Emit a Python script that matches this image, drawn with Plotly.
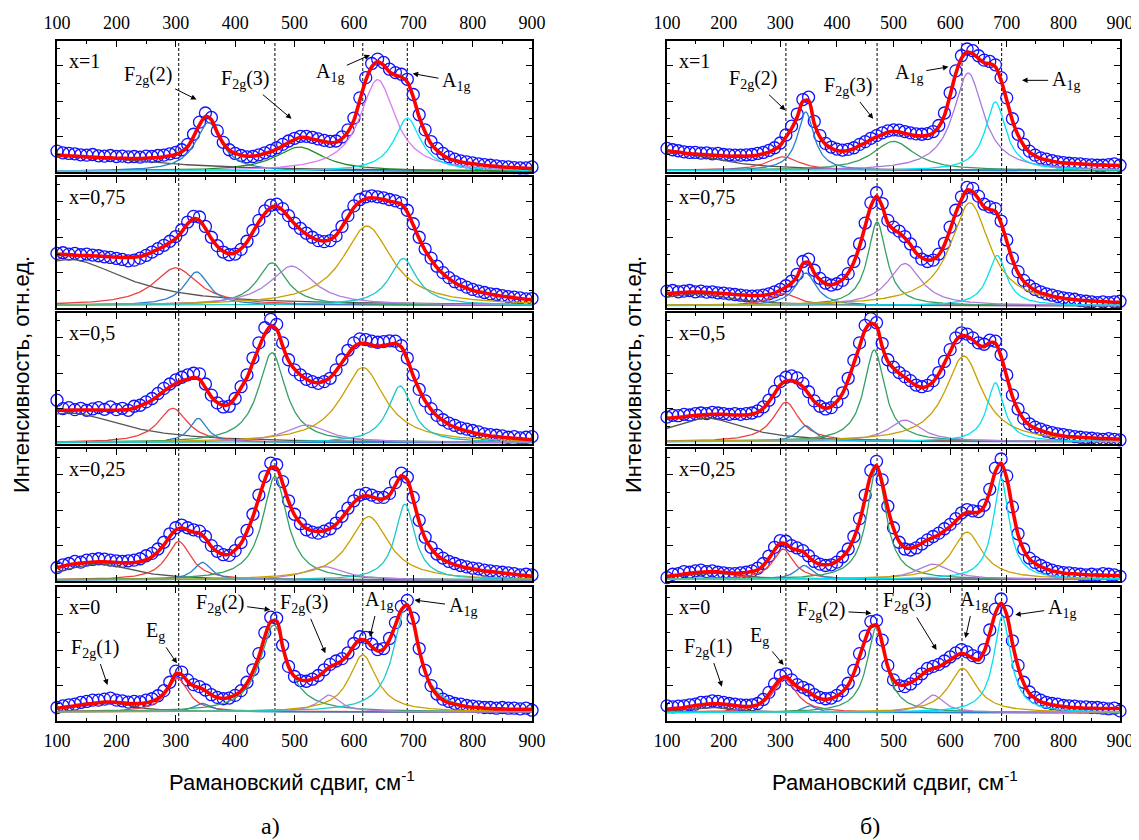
import numpy as np
import plotly.graph_objects as go

# ---------------- data ----------------
wavenumber = list(range(100, 901, 10))          # Raman shift grid, cm^-1

# panel а) ----------------------------------------------------------
a1_exp = [0.62,0.57,0.55,0.54,0.51,0.50,0.52,0.48,0.47,0.49,
          0.46,0.47,0.45,0.46,0.44,0.47,0.46,0.49,0.50,0.54,
          0.58,0.66,0.82,1.12,1.48,1.75,1.62,1.22,0.88,0.66,
          0.55,0.49,0.45,0.46,0.51,0.57,0.64,0.72,0.82,0.92,
          1.00,1.06,1.06,1.03,0.98,0.94,0.91,0.92,1.04,1.25,
          1.60,2.20,2.80,3.22,3.35,3.25,3.05,2.95,2.90,2.75,
          2.30,1.70,1.25,0.90,0.70,0.55,0.45,0.38,0.33,0.30,
          0.27,0.24,0.22,0.20,0.18,0.16,0.15,0.13,0.12,0.12,
          0.15]
a1_fit = [0.50,0.49,0.48,0.47,0.46,0.45,0.44,0.43,0.42,0.42,
          0.41,0.41,0.40,0.40,0.40,0.41,0.42,0.43,0.45,0.48,
          0.52,0.60,0.75,1.05,1.40,1.65,1.55,1.17,0.85,0.65,
          0.55,0.50,0.47,0.47,0.50,0.55,0.60,0.68,0.77,0.87,
          0.96,1.03,1.02,0.98,0.94,0.90,0.87,0.88,0.99,1.19,
          1.53,2.13,2.72,3.12,3.27,3.17,2.97,2.87,2.82,2.67,
          2.23,1.63,1.19,0.84,0.64,0.50,0.40,0.34,0.30,0.27,
          0.25,0.22,0.20,0.18,0.17,0.15,0.14,0.13,0.12,0.11,
          0.10]
a1_center = [100, 355, 508, 640, 690]
a1_hwhm = [180, 27, 50, 36, 27]
a1_height = [0.48, 1.45, 0.72, 2.72, 1.58]
a1_colors = ["#555555", "#2a7fc4", "#1f8a1f", "#dc7af0", "#00e8f0"]
a1_base = 0.02

a2_exp = [1.62,1.64,1.60,1.62,1.58,1.60,1.57,1.55,1.52,1.50,
          1.47,1.44,1.40,1.42,1.48,1.56,1.66,1.76,1.86,1.98,
          2.12,2.32,2.55,2.72,2.70,2.42,2.10,1.85,1.66,1.58,
          1.60,1.74,1.98,2.30,2.60,2.88,3.05,3.08,2.95,2.74,
          2.52,2.36,2.22,2.10,2.00,1.97,2.00,2.14,2.42,2.74,
          3.03,3.22,3.30,3.33,3.30,3.27,3.22,3.18,3.12,2.90,
          2.50,2.10,1.75,1.48,1.24,1.05,0.90,0.78,0.70,0.62,
          0.55,0.50,0.46,0.42,0.40,0.37,0.34,0.32,0.30,0.27,
          0.28]
a2_fit = [1.59,1.59,1.58,1.57,1.56,1.56,1.55,1.54,1.53,1.52,
          1.51,1.50,1.50,1.51,1.53,1.58,1.66,1.74,1.83,1.94,
          2.06,2.26,2.50,2.65,2.60,2.36,2.06,1.83,1.68,1.61,
          1.64,1.76,1.96,2.26,2.55,2.80,2.98,3.02,2.90,2.70,
          2.50,2.33,2.19,2.08,2.01,1.99,2.03,2.16,2.41,2.70,
          2.98,3.15,3.24,3.27,3.25,3.22,3.17,3.13,3.08,2.85,
          2.46,2.06,1.71,1.44,1.20,1.02,0.87,0.75,0.66,0.59,
          0.52,0.48,0.45,0.41,0.38,0.35,0.33,0.30,0.28,0.26,
          0.25]
a2_center = [120, 300, 335, 462, 495, 622, 683]
a2_hwhm = [115, 45, 25, 30, 45, 50, 28]
a2_height = [1.36, 1.11, 0.99, 1.26, 1.16, 2.35, 1.39]
a2_base = 0.08

a3_exp = [1.30,1.05,1.08,1.02,1.06,1.00,1.04,1.08,1.03,1.10,
          1.02,1.06,1.00,1.12,1.15,1.25,1.35,1.50,1.65,1.78,
          1.90,1.98,2.05,2.10,2.08,1.78,1.45,1.22,1.10,1.12,
          1.35,1.70,2.05,2.55,3.00,3.45,3.70,3.55,3.00,2.50,
          2.20,2.05,1.92,1.85,1.80,1.85,1.95,2.20,2.50,2.78,
          3.00,3.12,3.10,3.05,3.02,3.04,3.06,3.05,2.92,2.55,
          2.05,1.62,1.28,1.05,0.85,0.72,0.62,0.55,0.48,0.44,
          0.40,0.36,0.30,0.28,0.26,0.24,0.20,0.22,0.18,0.20,
          0.22]
a3_fit = [1.00,1.00,1.00,1.01,1.01,1.01,1.01,1.01,1.00,1.00,
          1.00,1.01,1.02,1.07,1.13,1.21,1.30,1.43,1.57,1.69,
          1.79,1.87,1.92,1.97,1.92,1.67,1.40,1.23,1.15,1.18,
          1.38,1.67,1.97,2.42,2.86,3.26,3.50,3.40,2.91,2.47,
          2.22,2.05,1.92,1.84,1.82,1.87,1.97,2.17,2.42,2.66,
          2.88,2.98,2.98,2.94,2.90,2.92,2.96,2.98,2.88,2.51,
          2.02,1.62,1.28,1.03,0.83,0.70,0.58,0.50,0.44,0.39,
          0.34,0.30,0.27,0.24,0.22,0.20,0.19,0.17,0.16,0.14,
          0.13]
a3_center = [120, 295, 338, 462, 520, 615, 678]
a3_hwhm = [110, 30, 18, 28, 45, 45, 25]
a3_height = [0.88, 1.02, 0.72, 2.67, 0.52, 2.23, 1.68]
a3_base = 0.04

a4_exp = [0.40,0.48,0.52,0.58,0.56,0.62,0.64,0.66,0.65,0.62,
          0.60,0.58,0.60,0.62,0.66,0.75,0.82,0.95,1.15,1.40,
          1.58,1.66,1.58,1.52,1.48,1.32,1.05,0.88,0.78,0.76,
          0.90,1.14,1.50,1.98,2.55,3.10,3.50,3.45,2.95,2.38,
          1.98,1.70,1.52,1.45,1.42,1.48,1.55,1.72,1.92,2.16,
          2.38,2.55,2.60,2.55,2.48,2.48,2.60,2.92,3.20,3.08,
          2.48,1.80,1.30,1.00,0.80,0.68,0.58,0.52,0.46,0.42,
          0.38,0.36,0.32,0.30,0.28,0.26,0.24,0.22,0.18,0.20,
          0.18]
a4_fit = [0.40,0.44,0.48,0.51,0.53,0.55,0.56,0.57,0.57,0.56,
          0.55,0.54,0.54,0.55,0.57,0.63,0.72,0.87,1.07,1.32,
          1.51,1.58,1.51,1.45,1.42,1.27,1.02,0.87,0.79,0.79,
          0.92,1.12,1.47,1.91,2.46,3.00,3.37,3.35,2.90,2.36,
          1.96,1.71,1.56,1.49,1.47,1.49,1.56,1.68,1.88,2.11,
          2.33,2.48,2.53,2.50,2.44,2.44,2.55,2.85,3.12,3.00,
          2.41,1.76,1.27,0.97,0.77,0.64,0.55,0.48,0.43,0.39,
          0.36,0.33,0.30,0.28,0.26,0.24,0.22,0.20,0.18,0.16,
          0.14]
a4_center = [170, 305, 345, 467, 550, 625, 686]
a4_hwhm = [70, 25, 18, 25, 40, 40, 20]
a4_height = [0.48, 1.14, 0.52, 3.07, 0.40, 1.88, 2.25]
a4_base = 0.03

a5_exp = [0.40,0.45,0.48,0.50,0.55,0.58,0.62,0.62,0.65,0.68,
          0.62,0.60,0.56,0.58,0.57,0.62,0.66,0.75,0.90,1.15,
          1.48,1.45,1.22,1.08,1.02,0.92,0.78,0.70,0.66,0.68,
          0.76,0.90,1.15,1.52,2.00,2.62,3.08,3.05,2.25,1.62,
          1.32,1.20,1.18,1.24,1.35,1.52,1.68,1.78,1.85,2.02,
          2.30,2.50,2.48,2.28,2.12,2.15,2.45,2.92,3.40,3.58,
          3.05,2.15,1.50,1.05,0.80,0.65,0.58,0.52,0.50,0.46,
          0.44,0.42,0.40,0.40,0.38,0.40,0.38,0.38,0.36,0.38,
          0.32]
a5_fit = [0.38,0.40,0.43,0.45,0.48,0.50,0.52,0.54,0.56,0.56,
          0.55,0.54,0.52,0.52,0.52,0.54,0.59,0.67,0.82,1.07,
          1.40,1.38,1.17,1.04,0.99,0.90,0.77,0.70,0.67,0.70,
          0.77,0.90,1.12,1.47,1.91,2.50,2.95,2.97,2.21,1.61,
          1.32,1.22,1.20,1.24,1.32,1.47,1.61,1.69,1.79,1.96,
          2.23,2.41,2.39,2.21,2.08,2.13,2.41,2.85,3.30,3.45,
          2.95,2.11,1.47,1.02,0.77,0.62,0.54,0.50,0.46,0.43,
          0.41,0.40,0.38,0.37,0.36,0.36,0.35,0.35,0.35,0.35,
          0.35]
a5_center = [180, 303, 345, 465, 558, 615, 688]
a5_hwhm = [50, 22, 18, 28, 22, 28, 25]
a5_height = [0.30, 1.00, 0.25, 2.58, 0.50, 1.69, 3.18]
a5_base = 0.27

# panel б) ----------------------------------------------------------
b1_exp = [0.70,0.66,0.63,0.60,0.58,0.58,0.56,0.57,0.54,0.55,
          0.52,0.51,0.50,0.50,0.51,0.52,0.55,0.58,0.64,0.72,
          0.86,1.10,1.36,1.72,2.15,2.22,1.50,1.08,0.85,0.74,
          0.68,0.65,0.67,0.72,0.82,0.90,1.00,1.08,1.16,1.22,
          1.25,1.24,1.20,1.16,1.13,1.12,1.14,1.20,1.38,1.75,
          2.35,3.00,3.45,3.65,3.60,3.45,3.32,3.28,3.18,2.80,
          2.20,1.58,1.12,0.82,0.62,0.50,0.42,0.38,0.34,0.30,
          0.28,0.26,0.25,0.24,0.22,0.21,0.20,0.20,0.22,0.24,
          0.20]
b1_fit = [0.64,0.61,0.59,0.56,0.54,0.53,0.52,0.51,0.50,0.49,
          0.48,0.47,0.47,0.47,0.47,0.48,0.50,0.54,0.59,0.67,
          0.79,1.04,1.29,1.63,2.10,2.12,1.44,1.04,0.82,0.71,
          0.64,0.62,0.64,0.69,0.79,0.86,0.96,1.04,1.11,1.18,
          1.21,1.19,1.14,1.11,1.08,1.07,1.09,1.16,1.34,1.68,
          2.28,2.92,3.37,3.56,3.51,3.37,3.24,3.22,3.12,2.72,
          2.13,1.53,1.09,0.79,0.59,0.48,0.40,0.36,0.32,0.29,
          0.27,0.26,0.25,0.24,0.23,0.22,0.21,0.21,0.20,0.20,
          0.19]
b1_center = [110, 305, 345, 500, 632, 680]
b1_hwhm = [100, 35, 18, 45, 32, 22]
b1_height = [0.52, 0.41, 1.74, 0.87, 2.90, 2.04]
b1_colors = ["#555555", "#ee4040", "#2a80d0", "#3a9a5a", "#a878dc", "#00e4f4"]
b1_base = 0.04

b2_exp = [0.50,0.52,0.48,0.50,0.52,0.48,0.50,0.47,0.48,0.45,
          0.44,0.42,0.40,0.38,0.36,0.35,0.36,0.38,0.42,0.48,
          0.55,0.66,0.80,1.00,1.38,1.45,1.12,0.88,0.74,0.68,
          0.72,0.82,1.02,1.38,1.90,2.52,3.12,3.42,3.10,2.60,
          2.40,2.28,2.12,1.90,1.65,1.45,1.38,1.42,1.60,1.92,
          2.40,2.90,3.30,3.58,3.55,3.32,3.08,3.00,2.95,2.58,
          2.02,1.48,1.08,0.82,0.66,0.55,0.48,0.42,0.38,0.34,
          0.30,0.28,0.26,0.22,0.20,0.18,0.16,0.18,0.16,0.18,
          0.20]
b2_fit = [0.43,0.44,0.45,0.46,0.47,0.47,0.47,0.46,0.45,0.44,
          0.43,0.42,0.40,0.39,0.38,0.37,0.37,0.38,0.40,0.45,
          0.52,0.62,0.74,0.94,1.32,1.36,1.04,0.84,0.72,0.69,
          0.74,0.84,1.04,1.36,1.83,2.43,3.02,3.32,3.02,2.52,
          2.33,2.23,2.08,1.88,1.63,1.49,1.42,1.44,1.58,1.88,
          2.33,2.82,3.22,3.50,3.45,3.24,3.00,2.92,2.87,2.52,
          1.98,1.44,1.04,0.79,0.64,0.52,0.45,0.40,0.35,0.32,
          0.29,0.27,0.25,0.23,0.22,0.21,0.20,0.19,0.18,0.17,
          0.17]
b2_center = [150, 305, 345, 471, 520, 635, 683]
b2_hwhm = [80, 30, 22, 20, 35, 42, 20]
b2_height = [0.35, 0.36, 0.97, 2.48, 1.25, 3.05, 1.49]
b2_base = 0.07

b3_exp = [0.80,0.85,0.84,0.88,0.86,0.90,0.92,0.90,0.94,0.92,
          0.90,0.88,0.90,0.88,0.90,0.92,0.98,1.10,1.30,1.56,
          1.85,1.98,2.02,1.96,1.80,1.55,1.28,1.12,1.04,1.08,
          1.25,1.52,1.95,2.48,3.00,3.52,3.72,3.60,2.98,2.50,
          2.28,2.12,2.00,1.88,1.75,1.70,1.74,1.88,2.12,2.45,
          2.80,3.15,3.30,3.26,3.15,3.00,2.96,3.08,3.05,2.65,
          2.05,1.45,1.04,0.76,0.60,0.50,0.44,0.38,0.34,0.30,
          0.28,0.25,0.22,0.20,0.18,0.17,0.15,0.14,0.16,0.14,
          0.12]
b3_fit = [0.76,0.78,0.79,0.81,0.83,0.85,0.86,0.87,0.88,0.88,
          0.88,0.87,0.86,0.86,0.86,0.89,0.94,1.06,1.26,1.50,
          1.75,1.87,1.88,1.82,1.70,1.49,1.26,1.13,1.06,1.11,
          1.26,1.50,1.90,2.40,2.89,3.39,3.58,3.49,2.89,2.45,
          2.25,2.10,1.98,1.85,1.73,1.68,1.72,1.85,2.08,2.40,
          2.74,3.07,3.21,3.19,3.09,2.94,2.89,3.01,2.99,2.59,
          2.00,1.41,1.01,0.73,0.56,0.47,0.40,0.35,0.30,0.27,
          0.24,0.22,0.21,0.20,0.19,0.18,0.17,0.16,0.16,0.15,
          0.15]
b3_center = [170, 310, 345, 466, 520, 624, 680]
b3_hwhm = [80, 28, 18, 22, 35, 40, 18]
b3_height = [0.70, 1.17, 0.47, 2.72, 0.64, 2.54, 1.75]
b3_base = 0.07

b4_exp = [0.10,0.20,0.22,0.28,0.26,0.30,0.32,0.28,0.30,0.26,
          0.24,0.22,0.22,0.24,0.26,0.30,0.38,0.52,0.74,1.00,
          1.20,1.18,1.05,0.98,0.90,0.75,0.58,0.50,0.46,0.48,
          0.56,0.72,0.95,1.32,1.85,2.55,3.28,3.55,3.00,2.22,
          1.58,1.15,0.95,0.92,0.98,1.10,1.22,1.32,1.42,1.55,
          1.68,1.85,2.02,2.12,2.08,2.06,2.25,2.72,3.35,3.62,
          3.12,2.20,1.40,0.95,0.68,0.55,0.46,0.38,0.32,0.28,
          0.25,0.24,0.22,0.20,0.18,0.20,0.18,0.22,0.20,0.18,
          0.14]
b4_fit = [0.13,0.16,0.18,0.21,0.23,0.25,0.26,0.27,0.28,0.27,
          0.26,0.24,0.23,0.24,0.25,0.28,0.33,0.46,0.67,0.92,
          1.12,1.10,0.97,0.92,0.87,0.72,0.57,0.50,0.48,0.50,
          0.59,0.72,0.92,1.27,1.76,2.46,3.15,3.43,2.90,2.16,
          1.56,1.17,0.99,0.97,1.02,1.12,1.22,1.29,1.37,1.49,
          1.61,1.78,1.94,2.04,2.03,2.04,2.21,2.65,3.25,3.50,
          3.05,2.16,1.37,0.92,0.65,0.52,0.43,0.36,0.30,0.27,
          0.24,0.22,0.21,0.20,0.19,0.18,0.18,0.17,0.17,0.16,
          0.16]
b4_center = [180, 305, 342, 470, 570, 630, 690]
b4_hwhm = [60, 22, 18, 20, 35, 32, 17]
b4_height = [0.18, 0.90, 0.41, 3.32, 0.45, 1.40, 3.00]
b4_base = 0.05

b5_exp = [0.45,0.42,0.44,0.45,0.48,0.50,0.55,0.56,0.60,0.58,
          0.55,0.52,0.50,0.48,0.47,0.48,0.52,0.64,0.85,1.10,
          1.35,1.40,1.22,1.08,1.00,0.92,0.78,0.70,0.66,0.68,
          0.76,0.90,1.12,1.50,2.00,2.52,2.95,2.98,2.40,1.65,
          1.22,1.05,1.02,1.10,1.25,1.40,1.56,1.62,1.68,1.78,
          1.90,2.02,2.12,2.05,1.94,1.88,2.12,2.70,3.32,3.62,
          3.25,2.38,1.65,1.15,0.86,0.70,0.62,0.55,0.52,0.50,
          0.46,0.45,0.44,0.42,0.42,0.40,0.40,0.38,0.36,0.38,
          0.30]
b5_fit = [0.35,0.37,0.38,0.40,0.43,0.46,0.48,0.50,0.52,0.51,
          0.50,0.48,0.46,0.44,0.43,0.44,0.48,0.60,0.80,1.04,
          1.24,1.32,1.17,1.02,0.94,0.87,0.74,0.67,0.64,0.67,
          0.74,0.87,1.07,1.42,1.91,2.41,2.80,2.85,2.31,1.61,
          1.22,1.07,1.07,1.14,1.24,1.37,1.50,1.56,1.61,1.71,
          1.81,1.93,2.01,1.96,1.86,1.81,2.06,2.60,3.20,3.50,
          3.15,2.31,1.61,1.12,0.82,0.67,0.57,0.52,0.48,0.45,
          0.43,0.41,0.40,0.39,0.38,0.38,0.37,0.37,0.37,0.37,
          0.37]
b5_center = [180, 308, 352, 470, 570, 622, 692]
b5_hwhm = [50, 25, 15, 20, 22, 30, 18]
b5_height = [0.15, 0.99, 0.20, 2.55, 0.52, 1.31, 2.85]
b5_base = 0.25

comp_colors = ["#555555", "#ee4040", "#2a7fcc", "#34a065", "#b47ee0", "#c9a000", "#20c6c6"]
comp_colors_b = ["#555555", "#ee4040", "#2a7fcc", "#34a065", "#b07ad8", "#c9a000", "#00e0ee"]

sample_labels = ["x=1", "x=0,75", "x=0,5", "x=0,25", "x=0"]
dashed_a = [305, 467, 615, 690]
dashed_b = [310, 471, 621, 691]

# ---------------- layout constants (page pixels) ----------------
OFF = 8                       # default page margin around the plot div
FW, FH = 1139 - OFF, 840 - OFF
ROW_TOP = [41, 177, 313, 449, 587]
ROW_BOT = [172, 308, 444, 581, 721]
PANEL_X = [(57, 532), (667, 1120)]
UNIT_PX = 33.7
SERIF = "Liberation Serif, Times New Roman, Times, serif"
SANS = "Liberation Sans, Arial, Helvetica, sans-serif"


def px_x(p):
    return (p - OFF) / FW


def px_y(p):
    return 1 - (p - OFF) / FH


panels = [
    [(a1_exp, a1_fit, a1_center, a1_hwhm, a1_height, a1_colors, a1_base),
     (a2_exp, a2_fit, a2_center, a2_hwhm, a2_height, comp_colors, a2_base),
     (a3_exp, a3_fit, a3_center, a3_hwhm, a3_height, comp_colors, a3_base),
     (a4_exp, a4_fit, a4_center, a4_hwhm, a4_height, comp_colors, a4_base),
     (a5_exp, a5_fit, a5_center, a5_hwhm, a5_height, comp_colors, a5_base)],
    [(b1_exp, b1_fit, b1_center, b1_hwhm, b1_height, b1_colors, b1_base),
     (b2_exp, b2_fit, b2_center, b2_hwhm, b2_height, comp_colors_b, b2_base),
     (b3_exp, b3_fit, b3_center, b3_hwhm, b3_height, comp_colors_b, b3_base),
     (b4_exp, b4_fit, b4_center, b4_hwhm, b4_height, comp_colors_b, b4_base),
     (b5_exp, b5_fit, b5_center, b5_hwhm, b5_height, comp_colors_b, b5_base)],
]

xg = np.arange(100, 901, 2)
fig = go.Figure()
layout = dict(template="none", width=FW, height=FH, margin=dict(l=0, r=0, t=0, b=0, pad=0),
              paper_bgcolor="white", plot_bgcolor="rgba(0,0,0,0)",
              showlegend=False, font=dict(family=SERIF, size=18, color="black"))
annotations = []
shapes = []
axis_ids = {}

for p, rows in enumerate(panels):
    x0, x1 = PANEL_X[p]
    for r, (exp, fit, cen, hw, ht, cols, base) in enumerate(rows):
        assert len(exp) == len(wavenumber) and len(fit) == len(wavenumber), (p, r, len(exp), len(fit))
        k = p * 5 + r + 1
        xn = "x" if k == 1 else f"x{k}"
        yn = "y" if k == 1 else f"y{k}"
        axis_ids[(p, r)] = (xn, yn)
        top, bot = ROW_TOP[r], ROW_BOT[r]
        yr = (bot - top) / UNIT_PX
        layout["xaxis" if k == 1 else f"xaxis{k}"] = dict(
            domain=[px_x(x0), px_x(x1)], range=[100, 900], anchor=yn, automargin=False,
            showline=True, linecolor="black", linewidth=1.6, mirror="allticks",
            ticks="inside", ticklen=6, tickwidth=1.2, tickcolor="black",
            tick0=100, dtick=100,
            minor=dict(ticks="inside", ticklen=3, tickwidth=1.2, tickcolor="black", tick0=100, dtick=50),
            showgrid=False, zeroline=False,
            showticklabels=(r in (0, 4)), side="top" if r == 0 else "bottom",
            ticklabelstandoff=3,
            tickfont=dict(family=SERIF, size=18, color="black"),
        )
        layout["yaxis" if k == 1 else f"yaxis{k}"] = dict(
            domain=[px_y(bot), px_y(top)], range=[0, yr], anchor=xn, automargin=False,
            showline=True, linecolor="black", linewidth=1.6, mirror="allticks",
            ticks="inside", ticklen=6, tickwidth=1.2, tickcolor="black",
            tick0=0, dtick=1.05,
            minor=dict(ticks="inside", ticklen=3, tickwidth=1.2, tickcolor="black", tick0=0, dtick=0.525),
            showgrid=False, zeroline=False, showticklabels=False,
        )
        # experimental points
        fig.add_trace(go.Scatter(
            x=wavenumber, y=exp, mode="markers", xaxis=xn, yaxis=yn,
            marker=dict(symbol="circle-open", size=12, color="#1010ff", line=dict(width=1.3)),
            cliponaxis=False, hoverinfo="skip"))
        # Lorentzian components
        for c, w, h, col in zip(cen, hw, ht, cols):
            yy = base + h / (1 + ((xg - c) / w) ** 2)
            fig.add_trace(go.Scatter(x=xg, y=yy, mode="lines", xaxis=xn, yaxis=yn,
                                     line=dict(color=col, width=1.3), hoverinfo="skip"))
        # fit
        fig.add_trace(go.Scatter(x=wavenumber, y=fit, mode="lines", xaxis=xn, yaxis=yn,
                                 line=dict(color="#ff0000", width=3.6, shape="spline", smoothing=0.8),
                                 hoverinfo="skip"))
        annotations.append(dict(text=sample_labels[r], xref=xn, yref=yn, x=117, y=yr - 0.6,
                                xanchor="left", yanchor="middle", showarrow=False,
                                font=dict(family=SERIF, size=20, color="black")))
    # dashed guide lines across whole panel
    xn_top = axis_ids[(p, 0)][0]
    for v in (dashed_a if p == 0 else dashed_b):
        shapes.append(dict(type="line", xref=xn_top, yref="paper", x0=v, x1=v,
                           y0=px_y(ROW_BOT[4]), y1=px_y(ROW_TOP[0]), layer="below",
                           line=dict(color="black", width=1, dash="3px,2px")))
    annotations.append(dict(text="Рамановский сдвиг, см<sup>-1</sup>", xref="paper", yref="paper",
                            x=px_x(292 if p == 0 else 895), y=px_y(781),
                            xanchor="center", yanchor="middle", showarrow=False,
                            font=dict(family=SANS, size=22, color="black")))
    annotations.append(dict(text="Интенсивность, отн.ед.", xref="paper", yref="paper",
                            x=px_x(22 if p == 0 else 634), y=px_y(375), textangle=-90,
                            xanchor="center", yanchor="middle",
                            showarrow=False, font=dict(family=SANS, size=22, color="black")))
    annotations.append(dict(text="а)" if p == 0 else "б)", xref="paper", yref="paper",
                            x=px_x(270 if p == 0 else 870), y=px_y(826),
                            xanchor="center", yanchor="middle", showarrow=False,
                            font=dict(family=SERIF, size=24, color="black")))

# peak labels: (panel, row, text, label_x, label_y, arrow_tip_x, arrow_tip_y)
F2 = "F<sub>2g</sub>(2)"
F3 = "F<sub>2g</sub>(3)"
F1 = "F<sub>2g</sub>(1)"
A1 = "A<sub>1g</sub>"
EG = "E<sub>g</sub>"
peak_labels = [
    (0, 0, F2, 253, 2.87, 335, 2.15),
    (0, 0, F3, 416, 2.75, 495, 1.58),
    (0, 0, A1, 559, 2.94, 627, 3.47),
    (0, 0, A1, 772, 2.69, 699, 2.92),
    (0, 4, F1, 164, 2.16, 185, 1.07),
    (0, 4, EG, 266, 2.65, 302, 1.71),
    (0, 4, F2, 374, 3.50, 459, 3.30),
    (0, 4, F3, 516, 3.50, 552, 2.01),
    (0, 4, A1, 642, 3.59, 627, 2.50),
    (0, 4, A1, 783, 3.40, 702, 3.59),
    (1, 0, F2, 252, 2.75, 309, 1.83),
    (1, 0, F3, 419, 2.54, 464, 1.58),
    (1, 0, A1, 527, 2.92, 597, 3.12),
    (1, 0, A1, 804, 2.72, 727, 2.72),
    (1, 4, F1, 173, 2.19, 197, 1.02),
    (1, 4, EG, 264, 2.50, 306, 1.66),
    (1, 4, F2, 372, 3.28, 461, 3.20),
    (1, 4, F3, 524, 3.54, 576, 2.11),
    (1, 4, A1, 642, 3.59, 627, 2.46),
    (1, 4, A1, 797, 3.35, 715, 3.15),
]
for (p, r, txt, tx, ty, hx, hy) in peak_labels:
    xn, yn = axis_ids[(p, r)]
    annotations.append(dict(text=txt, xref=xn, yref=yn, x=hx, y=hy, ax=tx, ay=ty,
                            axref=xn, ayref=yn, showarrow=True, arrowhead=2, arrowsize=1.1,
                            arrowwidth=1, arrowcolor="black", standoff=0, startstandoff=2,
                            xanchor="center", yanchor="middle",
                            font=dict(family=SERIF, size=20, color="black")))

layout["annotations"] = annotations
layout["shapes"] = shapes
fig.update_layout(**layout)
fig.write_html("out.html")
